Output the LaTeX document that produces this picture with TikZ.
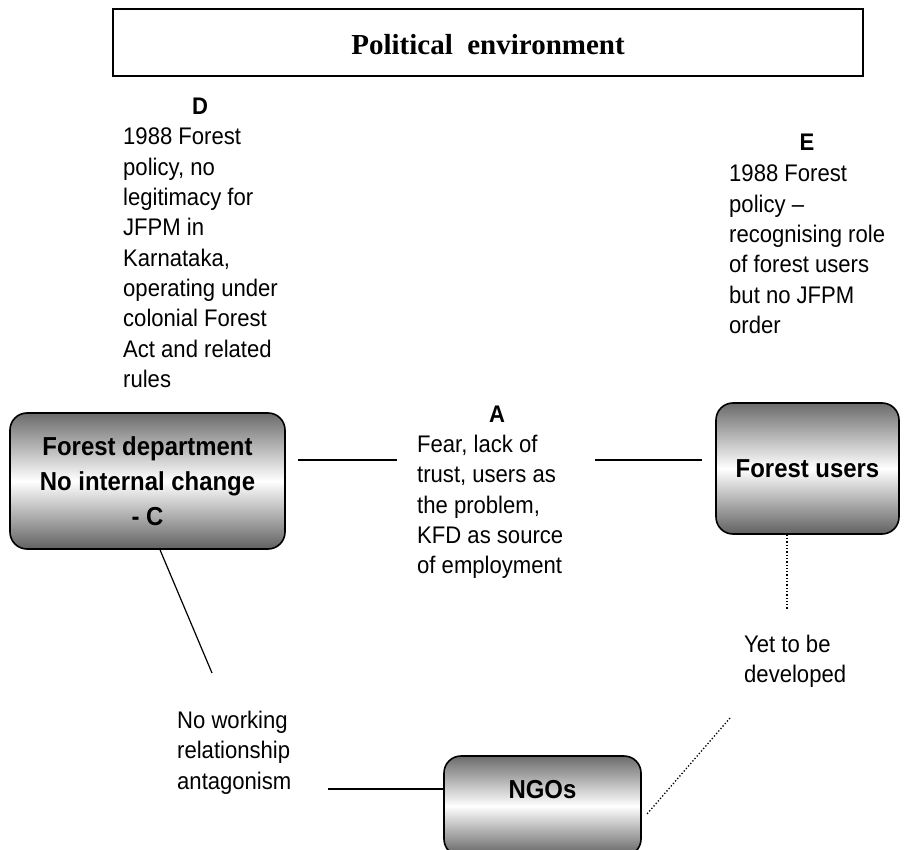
\documentclass[tikz,border=0pt]{standalone}
\usepackage{fontspec}
\setmainfont{Liberation Sans}[FakeStretch=0.92]
\newfontfamily\titlefont{Liberation Serif}
\usetikzlibrary{positioning}

\tikzset{
  actor/.style={draw, line width=1.6pt, rounded corners=17pt,
    top color=black!58, bottom color=black!62, middle color=white,
    align=center, inner sep=0pt, font=\fontsize{26}{35}\selectfont\bfseries},
  note/.style={anchor=north west, align=left, inner sep=0pt,
    font=\fontsize{24}{30.3}\selectfont},
  tag/.style={anchor=base, inner sep=0pt, font=\fontsize{24}{30}\selectfont\bfseries},
  link/.style={line width=1.2pt},
  weak/.style={line width=1.3pt, dotted}
}

\begin{document}
\begin{tikzpicture}[x=1pt, y=-1pt]
			%%%%% START %%%%%
			\useasboundingbox (0, 0) rectangle (905, 850);
			\clip (0, 0) rectangle (905, 850);
			
			\node[draw, line width=1.6pt, minimum width=750pt, minimum height=67pt, inner sep=0pt,
			      text height=25pt, text depth=0pt,
			      font=\titlefont\fontsize{29}{32}\selectfont\bfseries] (polenv) at (488, 42.5) {Political\ \ environment};
			
			\node[tag] (dtag) at (200, 115) {D};
			\node[note] (dtext) at (123, 128) {1988 Forest\\policy, no\\legitimacy for\\JFPM in\\Karnataka,\\operating under\\colonial Forest\\Act and related\\rules};
			
			\node[tag] (etag) at (807, 151) {E};
			\node[note] (etext) at (729, 165) {1988 Forest\\policy --\\recognising role\\of forest users\\but no JFPM\\order};
			
			\node[actor, minimum width=275pt, minimum height=136pt] (fd) at (147.5, 481) {Forest department\\No internal change\\- C};
			\node[actor, minimum width=183pt, minimum height=131pt] (fu) at (807.5, 468.5) {Forest users};
			\node[actor, minimum width=197pt, minimum height=100pt, text height=18pt, text depth=34pt] (ngo) at (542.5, 806) {NGOs};
			
			\node[tag] (atag) at (497, 422) {A};
			\node[note] (atext) at (417, 435) {Fear, lack of\\trust, users as\\the problem,\\KFD as source\\of employment};
			
			\node[note] (ytext) at (744, 635) {Yet to be\\developed};
			\node[note] (ntext) at (177, 711) {No working\\relationship\\antagonism};
			
			\coordinate (fdend) at (298, 460);
			\coordinate (aleft) at (397, 460);
			\coordinate (aright) at (595, 460);
			\coordinate (fuend) at (702, 460);
			\coordinate (fdlow) at (212, 673);
			\coordinate (nleft) at (328, 789);
			\coordinate (fulow) at (787, 609);
			\coordinate (yend) at (730, 718);
			\coordinate (ngoend) at (647, 814);
			
			\draw[link] (fdend) -- (aleft);
			\draw[link] (aright) -- (fuend);
			\draw[link] ([xshift=12.5pt]fd.south) -- (fdlow);
			\draw[link] (nleft) -- (ngo.west |- nleft);
			\draw[weak] (fu.south -| fulow) -- (fulow);
			\draw[weak] (yend) -- (ngoend);
			%%%%% END %%%%%
\end{tikzpicture}
\end{document}
